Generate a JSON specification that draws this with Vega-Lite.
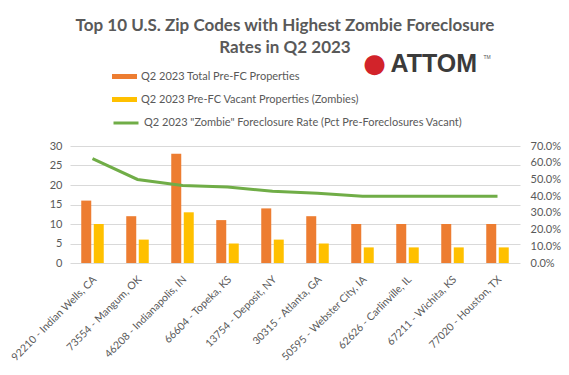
{
  "$schema": "https://vega.github.io/schema/vega-lite/v6.json",
  "width": 450,
  "height": 117,
  "autosize": {"type": "none"},
  "padding": {"left": 70, "top": 146, "right": 49, "bottom": 112},
  "background": "white",
  "config": {
    "font": "Lato",
    "view": {"stroke": null},
    "axis": {"labelColor": "#595959", "labelFontSize": 11, "domain": false, "ticks": false, "title": null}
  },
  "title": {
    "text": ["Top 10 U.S. Zip Codes with Highest Zombie Foreclosure", "Rates in Q2 2023"],
    "fontSize": 17,
    "fontWeight": "bold",
    "color": "#595959",
    "lineHeight": 22,
    "anchor": "middle",
    "frame": "group",
    "dx": -10,
    "offset": -6
  },
  "datasets": {
    "bars": [
      {"zip": "92210 - Indian Wells, CA", "series": "Q2 2023 Total Pre-FC Properties", "value": 16},
      {"zip": "92210 - Indian Wells, CA", "series": "Q2 2023 Pre-FC Vacant Properties (Zombies)", "value": 10},
      {"zip": "73554 - Mangum, OK", "series": "Q2 2023 Total Pre-FC Properties", "value": 12},
      {"zip": "73554 - Mangum, OK", "series": "Q2 2023 Pre-FC Vacant Properties (Zombies)", "value": 6},
      {"zip": "46208 - Indianapolis, IN", "series": "Q2 2023 Total Pre-FC Properties", "value": 28},
      {"zip": "46208 - Indianapolis, IN", "series": "Q2 2023 Pre-FC Vacant Properties (Zombies)", "value": 13},
      {"zip": "66604 - Topeka, KS", "series": "Q2 2023 Total Pre-FC Properties", "value": 11},
      {"zip": "66604 - Topeka, KS", "series": "Q2 2023 Pre-FC Vacant Properties (Zombies)", "value": 5},
      {"zip": "13754 - Deposit, NY", "series": "Q2 2023 Total Pre-FC Properties", "value": 14},
      {"zip": "13754 - Deposit, NY", "series": "Q2 2023 Pre-FC Vacant Properties (Zombies)", "value": 6},
      {"zip": "30315 - Atlanta, GA", "series": "Q2 2023 Total Pre-FC Properties", "value": 12},
      {"zip": "30315 - Atlanta, GA", "series": "Q2 2023 Pre-FC Vacant Properties (Zombies)", "value": 5},
      {"zip": "50595 - Webster City, IA", "series": "Q2 2023 Total Pre-FC Properties", "value": 10},
      {"zip": "50595 - Webster City, IA", "series": "Q2 2023 Pre-FC Vacant Properties (Zombies)", "value": 4},
      {"zip": "62626 - Carlinville, IL", "series": "Q2 2023 Total Pre-FC Properties", "value": 10},
      {"zip": "62626 - Carlinville, IL", "series": "Q2 2023 Pre-FC Vacant Properties (Zombies)", "value": 4},
      {"zip": "67211 - Wichita, KS", "series": "Q2 2023 Total Pre-FC Properties", "value": 10},
      {"zip": "67211 - Wichita, KS", "series": "Q2 2023 Pre-FC Vacant Properties (Zombies)", "value": 4},
      {"zip": "77020 - Houston, TX", "series": "Q2 2023 Total Pre-FC Properties", "value": 10},
      {"zip": "77020 - Houston, TX", "series": "Q2 2023 Pre-FC Vacant Properties (Zombies)", "value": 4}
    ],
    "rates": [
      {"zip": "92210 - Indian Wells, CA", "rate": 0.625},
      {"zip": "73554 - Mangum, OK", "rate": 0.5},
      {"zip": "46208 - Indianapolis, IN", "rate": 0.464},
      {"zip": "66604 - Topeka, KS", "rate": 0.455},
      {"zip": "13754 - Deposit, NY", "rate": 0.429},
      {"zip": "30315 - Atlanta, GA", "rate": 0.417},
      {"zip": "50595 - Webster City, IA", "rate": 0.4},
      {"zip": "62626 - Carlinville, IL", "rate": 0.4},
      {"zip": "67211 - Wichita, KS", "rate": 0.4},
      {"zip": "77020 - Houston, TX", "rate": 0.4}
    ],
    "logo": [{"name": "ATTOM", "icon": "●", "tm": "TM"}]
  },
  "layer": [
    {
      "data": {"name": "bars"},
      "mark": {"type": "bar"},
      "encoding": {
        "x": {
          "field": "zip", "type": "nominal", "sort": null,
          "scale": {"paddingInner": 0.5, "paddingOuter": 0.25},
          "axis": {"labelAngle": -45, "labelAlign": "right", "labelFontSize": 10.5, "labelPadding": 11, "labelOffset": -1, "grid": false, "title": null, "labelLimit": 200}
        },
        "xOffset": {"field": "series", "type": "nominal", "sort": null, "scale": {"paddingInner": 0.2}},
        "y": {
          "field": "value", "type": "quantitative",
          "scale": {"domain": [0, 30]},
          "axis": {"values": [0, 5, 10, 15, 20, 25, 30], "gridColor": "#D9D9D9", "labelPadding": 8}
        },
        "fill": {
          "field": "series", "type": "nominal", "sort": null,
          "scale": {"range": ["#ED7D31", "#FFC000"]},
          "legend": {
            "orient": "none", "legendX": 42, "legendY": -82, "title": null,
            "symbolType": "M-1,-0.2H1V0.2H-1Z", "symbolSize": 625, "symbolStrokeWidth": 0,
            "labelFontSize": 11, "labelColor": "#595959", "labelOffset": 4, "rowPadding": 5, "labelLimit": 400
          }
        }
      }
    },
    {
      "data": {"name": "rates"},
      "mark": {"type": "line", "strokeWidth": 3},
      "encoding": {
        "x": {"field": "zip", "type": "nominal", "sort": null},
        "y": {
          "field": "rate", "type": "quantitative",
          "scale": {"domain": [0, 0.7]},
          "axis": {"orient": "right", "format": ".1%", "values": [0, 0.1, 0.2, 0.3, 0.4, 0.5, 0.6, 0.7], "grid": false, "labelPadding": 10}
        },
        "stroke": {
          "datum": "Q2 2023 \"Zombie\" Foreclosure Rate (Pct Pre-Foreclosures Vacant)",
          "type": "nominal",
          "scale": {"range": ["#70AD47"]},
          "legend": {
            "orient": "none", "legendX": 42, "legendY": -37, "title": null,
            "symbolType": "stroke", "symbolSize": 625, "symbolStrokeWidth": 3,
            "labelFontSize": 11, "labelColor": "#595959", "labelOffset": 4, "labelLimit": 400
          }
        }
      }
    },
    {
      "data": {"name": "logo"},
      "mark": {"type": "text", "fontSize": 26, "color": "#D2232A", "align": "center", "baseline": "middle", "dx": -33, "dy": 0, "font": "DejaVu Sans"},
      "encoding": {
        "x": {"datum": "62626 - Carlinville, IL", "type": "nominal"},
        "y": {"datum": 51, "type": "quantitative", "scale": {"domain": [0, 30]}, "axis": null},
        "text": {"field": "icon"}
      }
    },
    {
      "data": {"name": "logo"},
      "mark": {"type": "text", "fontSize": 25, "fontWeight": "bold", "color": "#3B3B3B", "align": "left", "baseline": "middle", "dx": -17, "font": "Liberation Sans"},
      "encoding": {
        "x": {"datum": "62626 - Carlinville, IL", "type": "nominal"},
        "y": {"datum": 51, "type": "quantitative", "scale": {"domain": [0, 30]}, "axis": null},
        "text": {"field": "name"}
      }
    },
    {
      "data": {"name": "logo"},
      "mark": {"type": "text", "fontSize": 5, "color": "#555555", "align": "left", "baseline": "middle", "dx": 76, "dy": -7, "font": "Liberation Sans"},
      "encoding": {
        "x": {"datum": "62626 - Carlinville, IL", "type": "nominal"},
        "y": {"datum": 51, "type": "quantitative", "scale": {"domain": [0, 30]}, "axis": null},
        "text": {"field": "tm"}
      }
    }
  ],
  "resolve": {"scale": {"y": "independent"}}
}
